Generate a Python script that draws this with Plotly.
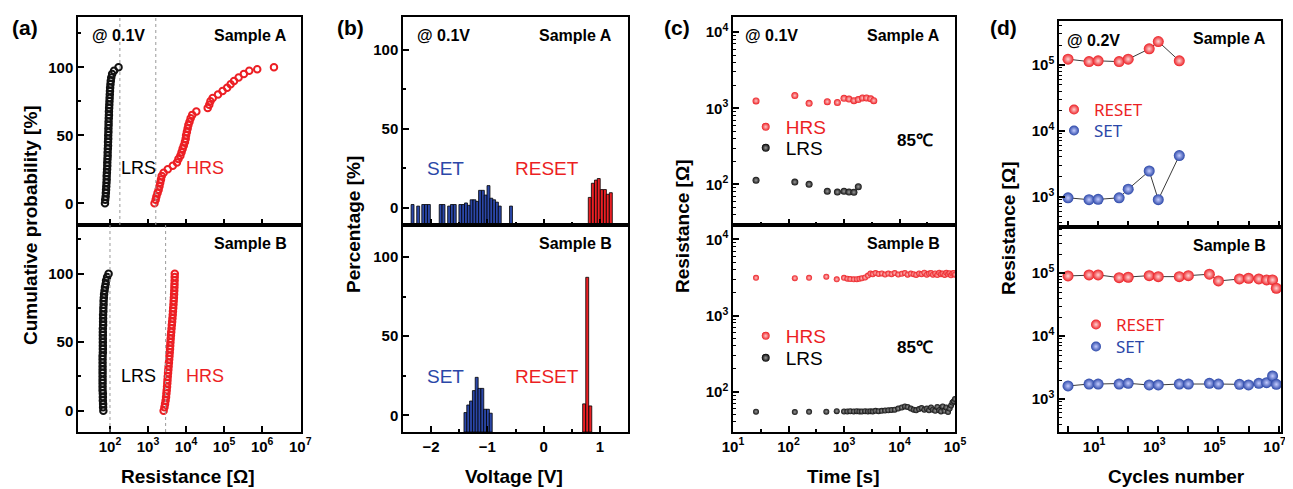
import plotly.graph_objects as go

W, H = 1293, 489
OX, OY = 8, 8          # the page body adds an 8px margin around the plot div
FW, FH = W - OX, H - OY
FONT = "Liberation Sans"
RED = "#ec1f24"
BLUE = "#2b47a8"
BLACK = "#111111"

# ---------------- (a) cumulative probability, LRS / HRS ----------------
cum_pct = [0, 2.5, 5, 7.5, 10, 12.5, 15, 17.5, 20, 22.5, 25, 27.5, 30, 32.5, 35,
           37.5, 40, 42.5, 45, 47.5, 50, 52.5, 55, 57.5, 60, 62.5, 65, 67.5, 70,
           72.5, 75, 77.5, 80, 82.5, 85, 87.5, 90, 92.5, 95, 97.5, 100]
lrs_a_res = [74, 75, 77, 78, 79, 80, 81, 82, 82, 83, 84, 85, 85, 86, 87, 87, 88, 89,
             89, 90, 90, 91, 91, 92, 92, 93, 94, 94, 95, 96, 97, 98, 99, 100, 101,
             103, 105, 108, 114, 128, 168]
hrs_a_pct = [0, 2.5, 5, 7.5, 10, 12.5, 15, 17.5, 20, 22.5, 25, 27.5, 30, 32.5, 35,
             37.5, 40, 42.5, 45, 47.5, 50, 52.5, 55, 57.5, 60, 62.5, 65, 67.5, 70,
             72.5, 75, 77.5, 80, 82.5, 85, 87.5, 90, 92.5, 95, 97.5, 98.5, 100]
hrs_a_res = [1480, 1590, 1660, 1780, 1900, 2000, 2090, 2190, 2290, 2570, 3300, 4470,
             5750, 6300, 7080, 7590, 8130, 8710, 9330, 9770, 10000, 10500, 11000,
             11500, 12300, 13200, 14500, 18600, 37000, 40700, 43600, 50100, 69000,
             91000, 120000, 148000, 182000, 240000, 330000, 457000, 741000, 2040000]
lrs_b_res = [67, 66, 66, 65, 65, 65, 64, 64, 64, 64, 64, 64, 64, 64, 64, 64, 64, 65,
             65, 65, 65, 65, 65, 65, 65, 66, 66, 66, 66, 67, 67, 68, 68, 69, 70, 72,
             74, 77, 79, 84, 92]
hrs_b_res = [2570, 2700, 2800, 2900, 2980, 3040, 3100, 3160, 3210, 3250, 3300, 3360,
             3420, 3480, 3540, 3600, 3660, 3720, 3780, 3830, 3880, 3940, 4000, 4070,
             4150, 4220, 4300, 4380, 4460, 4520, 4590, 4660, 4720, 4780, 4840, 4890,
             4930, 4960, 5000, 5020, 5050]
guide_a = [182, 1600]
guide_b = [100, 2900]

# ---------------- (b) switching voltage histograms ----------------
set_a_v = [-2.33, -2.23, -2.14, -2.09, -2.04, -1.83, -1.78, -1.68, -1.63, -1.58,
           -1.48, -1.43, -1.38, -1.33, -1.28, -1.23, -1.18, -1.13, -1.08, -1.03,
           -0.98, -0.93, -0.88, -0.83, -0.78, -0.58]
set_a_pct = [2, 1, 2, 2, 2, 2, 2, 1, 2, 2, 2, 2, 3, 1.5, 5, 5, 4, 11, 11, 8, 14, 6,
             5, 3.5, 1, 1]
reset_a_v = [0.82, 0.875, 0.93, 0.98, 1.035, 1.09, 1.14, 1.195]
reset_a_pct = [6.5, 15.5, 17.5, 18.5, 11.5, 11.5, 8.5, 9.5]
set_b_v = [-1.39, -1.34, -1.29, -1.24, -1.19, -1.14, -1.09, -1.04, -0.99, -0.94]
set_b_pct = [1.7, 6.5, 9, 15.6, 24, 17, 17, 3.8, 3.8, 1.3]
reset_b_v = [0.72, 0.775, 0.83]
reset_b_pct = [7.2, 87.3, 5.9]

# ---------------- (c) retention at 85C ----------------
t_a_hrs = [26, 130, 235, 500, 760, 1000, 1230, 1510, 1810, 2150, 2550, 3030, 3440]
hrs_a_ret = [1250, 1470, 1160, 1220, 1190, 1350, 1320, 1260, 1300, 1365, 1365, 1330, 1260]
t_a_lrs = [26, 130, 235, 500, 760, 1000, 1230, 1510, 1810]
lrs_a_ret = [113, 107, 100, 81, 79, 81, 79, 78.5, 93]
t_b = [26, 130, 235, 480, 740, 1000, 1150, 1300, 1500, 1700, 1900, 2100, 2400, 2700,
       3000, 3300, 3700, 4200, 4800, 5500, 6300, 7200, 8200, 9500, 11000, 12500,
       14000, 16000, 18000, 20000, 22500, 25000, 28000, 31000, 34000, 37000, 40000,
       44000, 48000, 52000, 56000, 60000, 65000, 70000, 75000, 80000, 85000, 90000,
       95000, 100000]
hrs_b_ret = [3130, 3100, 3130, 3240, 2990, 3130, 3050, 3020, 2990, 3010, 3040, 3090,
             3160, 3350, 3560, 3500, 3620, 3520, 3580, 3460, 3560, 3500, 3620, 3460,
             3540, 3620, 3450, 3560, 3500, 3420, 3570, 3500, 3660, 3440, 3560, 3620,
             3450, 3580, 3400, 3650, 3500, 3560, 3420, 3640, 3480, 3600, 3380, 3560,
             3620, 3450]
lrs_b_ret = [54.6, 54, 54.3, 54.6, 55.5, 55, 55, 55.5, 55, 55.5, 55, 55, 55.5, 55,
             55.5, 55, 56, 55.5, 56, 56.5, 57, 57.5, 58, 60, 62, 64, 63, 60, 58, 57,
             59, 61, 58, 60, 57, 62, 58, 56, 63, 57, 55, 64, 56, 62, 54, 60, 66, 72,
             75, 80]

# ---------------- (d) endurance ----------------
cyc_a = [1, 5, 10, 50, 100, 500, 1000, 5000]
reset_a_end = [122000, 112000, 115000, 112000, 122000, 175000, 226000, 115000]
set_a_end = [960, 900, 910, 960, 1300, 2450, 900, 4200]
cyc_b = [1, 5, 10, 50, 100, 500, 1000, 5000, 10000, 50000, 100000, 500000,
         1000000, 2200000, 4000000, 6300000, 8400000]
reset_b_end = [90600, 94000, 94000, 85100, 86300, 91600, 88300, 88300, 91600, 96400,
               75400, 81100, 83200, 81100, 78300, 78300, 57700]
set_b_end = [1610, 1730, 1730, 1730, 1775, 1670, 1670, 1730, 1730, 1775, 1730, 1710,
             1670, 1775, 1820, 2320, 1710]


def fx(px):
    return (px - OX) / FW


def fy(py):
    return 1 - (py - OY) / FH


def frame(domain, anchor, rng, **kw):
    d = dict(domain=domain, anchor=anchor, range=rng, showline=True, linecolor="black",
             linewidth=1.5, mirror=True, ticks="inside", ticklen=6, tickwidth=1.5,
             tickcolor="black", showgrid=False, zeroline=False, automargin=False,
             tickfont=dict(family=FONT, size=15, color="black", weight="bold"))
    d.update(kw)
    return d


def pow_ticks(exps, shown=None):
    shown = exps if shown is None else shown
    return dict(tickmode="array", tickvals=[10 ** e for e in exps],
                ticktext=[f"10<sup>{e}</sup>" if e in shown else "" for e in exps])


def log_minor(e0, e1):
    return dict(ticks="inside", ticklen=3, tickwidth=1, tickcolor="black",
                tickmode="array",
                tickvals=[k * 10 ** e for e in range(e0, e1) for k in range(2, 10)])


lin_minor = dict(ticks="inside", ticklen=3, tickwidth=1.5, tickcolor="black")
half_dec = dict(ticks="inside", ticklen=3, tickwidth=1.5, tickcolor="black",
                tickmode="array", tickvals=[10 ** (e + 0.5) for e in range(1, 5)])

XA = [fx(78), fx(301)]
XB = [fx(403), fx(628)]
XC = [fx(733), fx(955)]
XD = [fx(1059), fx(1281)]
YT = [fy(225), fy(17)]
YB = [fy(432), fy(225)]
YDT = [fy(226.7), fy(20.7)]
YDB = [fy(432), fy(226.7)]

fig = go.Figure()


def dots(x, y, ax, color, size, symbol="circle", lw=0, grad=None, mode="markers"):
    m = dict(symbol=symbol, size=size, color=color, line=dict(width=lw, color=color))
    if grad:
        m["gradient"] = dict(type="radial", color=grad)
    fig.add_trace(go.Scatter(x=x, y=y, mode=mode, marker=m, showlegend=False,
                             line=dict(color="#3a3a3a", width=1),
                             xaxis="x" + ax, yaxis="y" + ax, hoverinfo="x+y"))


# (a)
dots(lrs_a_res, cum_pct, "", BLACK, 6.5, "circle-open", 2)
dots(hrs_a_res, hrs_a_pct, "", RED, 6.5, "circle-open", 2)
dots(lrs_b_res, cum_pct, "2", BLACK, 6.5, "circle-open", 2)
dots(hrs_b_res, cum_pct, "2", RED, 6.5, "circle-open", 2)

# (b)
yb_top = [-11, 121]
yb_bot = [-10.6, 120.4]
for v, p, c, ax, lo in [(set_a_v, set_a_pct, BLUE, "3", yb_top[0]),
                        (reset_a_v, reset_a_pct, RED, "3", yb_top[0]),
                        (set_b_v, set_b_pct, BLUE, "4", yb_bot[0]),
                        (reset_b_v, reset_b_pct, RED, "4", yb_bot[0])]:
    fig.add_trace(go.Bar(x=v, y=[q - lo for q in p], base=lo, width=0.052,
                         marker=dict(color=c, line=dict(color="black", width=0.8)),
                         showlegend=False, xaxis="x" + ax, yaxis="y" + ax,
                         customdata=p, hovertemplate="%{x} V: %{customdata}%<extra></extra>"))

# (c)
dots(t_a_hrs, hrs_a_ret, "5", RED, 7, grad="#ffc4c4")
dots(t_a_lrs, lrs_a_ret, "5", BLACK, 7, grad="#9a9a9a")
dots(t_b, hrs_b_ret, "6", RED, 6, grad="#ffc4c4")
dots(t_b, lrs_b_ret, "6", BLACK, 6, grad="#9a9a9a")

# (d)
dots(cyc_a, reset_a_end, "7", RED, 11, grad="#ffd2d2", mode="lines+markers")
dots(cyc_a, set_a_end, "7", BLUE, 11, grad="#c4ccff", mode="lines+markers")
dots(cyc_b, reset_b_end, "8", RED, 11, grad="#ffd2d2", mode="lines+markers")
dots(cyc_b, set_b_end, "8", BLUE, 11, grad="#c4ccff", mode="lines+markers")

# legend entries (one legend per entry so each sits where the original does)
legend_items = [
    ("HRS", RED, 8, "#ffc4c4", "5", 767.7, 127, FONT, 19),
    ("LRS", "black", 8, "#9a9a9a", "5", 767.7, 148, FONT, 19),
    ("HRS", RED, 8, "#ffc4c4", "6", 767.7, 336, FONT, 19),
    ("LRS", "black", 8, "#9a9a9a", "6", 767.7, 358, FONT, 19),
    ("RESET", RED, 10, "#ffd2d2", "7", 1076, 110, "Noto Sans", 17),
    ("SET", BLUE, 10, "#c4ccff", "7", 1076, 131, "Noto Sans", 17),
    ("RESET", RED, 10, "#ffd2d2", "8", 1098, 325, "Noto Sans", 17),
    ("SET", BLUE, 10, "#c4ccff", "8", 1098, 347, "Noto Sans", 17),
]
legends = {}
for i, (name, col, size, grad, ax, mx, my, fam, fs) in enumerate(legend_items):
    key = "legend" if i == 0 else f"legend{i + 1}"
    fig.add_trace(go.Scatter(x=[None], y=[None], mode="markers", name=name,
                             marker=dict(size=size, color=col,
                                         gradient=dict(type="radial", color=grad)),
                             legend=key, xaxis="x" + ax, yaxis="y" + ax))
    legends[key] = dict(x=fx(mx - 22), y=fy(my), xanchor="left", yanchor="middle",
                        bgcolor="rgba(0,0,0,0)", borderwidth=0, itemsizing="trace",
                        font=dict(family=fam, size=fs, color=col))

layout_axes = dict(
    xaxis=frame(XA, "y", [1.16, 7.02], type="log", showticklabels=False,
                **pow_ticks([2, 3, 4, 5, 6, 7])),
    yaxis=frame(YT, "x", [-16, 137], dtick=50, tick0=0, minor=dict(dtick=25, **lin_minor)),
    xaxis2=frame(XA, "y2", [1.16, 7.02], type="log", **pow_ticks([2, 3, 4, 5, 6, 7])),
    yaxis2=frame(YB, "x2", [-15.5, 135.5], dtick=50, tick0=0,
                 minor=dict(dtick=25, **lin_minor)),
    xaxis3=frame(XB, "y3", [-2.5, 1.5], dtick=1, showticklabels=False,
                 minor=dict(dtick=0.5, **lin_minor)),
    yaxis3=frame(YT, "x3", yb_top, dtick=50, tick0=0, minor=dict(dtick=25, **lin_minor)),
    xaxis4=frame(XB, "y4", [-2.5, 1.5], dtick=1, minor=dict(dtick=0.5, **lin_minor)),
    yaxis4=frame(YB, "x4", yb_bot, dtick=50, tick0=0, minor=dict(dtick=25, **lin_minor)),
    xaxis5=frame(XC, "y5", [1, 5], type="log", showticklabels=False, minor=half_dec,
                 **pow_ticks([1, 2, 3, 4, 5])),
    yaxis5=frame(YT, "x5", [1.465, 4.2], type="log", minor=log_minor(1, 5),
                 **pow_ticks([2, 3, 4])),
    xaxis6=frame(XC, "y6", [1, 5], type="log", minor=half_dec,
                 **pow_ticks([1, 2, 3, 4, 5])),
    yaxis6=frame(YB, "x6", [1.47, 4.19], type="log", minor=log_minor(1, 5),
                 **pow_ticks([2, 3, 4])),
    xaxis7=frame(XD, "y7", [-0.3, 7.08], type="log", showticklabels=False,
                 **pow_ticks(list(range(0, 8)), [1, 3, 5, 7])),
    yaxis7=frame(YDT, "x7", [2.544, 5.67], type="log", minor=log_minor(2, 6),
                 **pow_ticks([3, 4, 5])),
    xaxis8=frame(XD, "y8", [-0.3, 7.08], type="log", ticklabelshift=-4,
                 **pow_ticks(list(range(0, 8)), [1, 3, 5, 7])),
    yaxis8=frame(YDB, "x8", [2.475, 5.74], type="log", minor=log_minor(2, 6),
                 **pow_ticks([3, 4, 5])),
)


def note(text, x, y, size=16, color="black", bold=True, xanchor="center", family=FONT,
         angle=0):
    return dict(text=f"<b>{text}</b>" if bold else text, x=fx(x), y=fy(y),
                xref="paper", yref="paper", showarrow=False, xanchor=xanchor,
                yanchor="middle", textangle=angle,
                font=dict(family=family, size=size, color=color))


annotations = [
    note("(a)", 25, 27, 21), note("(b)", 350, 27, 21),
    note("(c)", 677, 27, 21), note("(d)", 1003, 27, 21),
    note("Cumulative probability [%]", 31, 225, 19, angle=-90),
    note("Percentage [%]", 354, 225, 19, angle=-90),
    note("Resistance [Ω]", 682, 226, 19, angle=-90),
    note("Resistance [Ω]", 1008, 228, 19, angle=-90),
    note("Resistance [Ω]", 188, 476, 19),
    note("Voltage [V]", 514, 476, 19),
    note("Time [s]", 843, 476, 19),
    note("Cycles number", 1176, 476, 19),
    note("@ 0.1V", 90, 35, xanchor="left"), note("Sample A", 289, 35, xanchor="right"),
    note("Sample B", 289, 243, xanchor="right"),
    note("LRS", 138, 168, 18, bold=False), note("HRS", 205, 168, 18, RED, bold=False),
    note("LRS", 138, 376, 18, bold=False), note("HRS", 205, 376, 18, RED, bold=False),
    note("@ 0.1V", 415, 35, xanchor="left"), note("Sample A", 614, 35, xanchor="right"),
    note("Sample B", 614, 243, xanchor="right"),
    note("SET", 445, 168, 19, BLUE, bold=False), note("RESET", 547, 168, 19, RED, bold=False),
    note("SET", 445, 376, 19, BLUE, bold=False), note("RESET", 547, 376, 19, RED, bold=False),
    note("@ 0.1V", 743, 35, xanchor="left"), note("Sample A", 942, 35, xanchor="right"),
    note("Sample B", 942, 243, xanchor="right"),
    note("85℃", 915, 140, 17), note("85℃", 915, 347, 17),
    note("@ 0.2V", 1065, 40, xanchor="left"), note("Sample A", 1268, 38, xanchor="right"),
    note("Sample B", 1268, 245, xanchor="right"),
]

shapes = []
for xs, ax in [(guide_a, "x"), (guide_b, "x2")]:
    yref = "y domain" if ax == "x" else "y2 domain"
    for v in xs:
        shapes.append(dict(type="line", xref=ax, yref=yref, x0=v, x1=v, y0=0, y1=1,
                           line=dict(color="#9a9a9a", width=1, dash="dot")))

fig.update_layout(width=FW, height=FH, margin=dict(l=0, r=0, t=0, b=0),
                  paper_bgcolor="white", plot_bgcolor="white", barmode="overlay",
                  font=dict(family=FONT, color="black"),
                  annotations=annotations, shapes=shapes, **layout_axes, **legends)

fig.write_html("out.html")
